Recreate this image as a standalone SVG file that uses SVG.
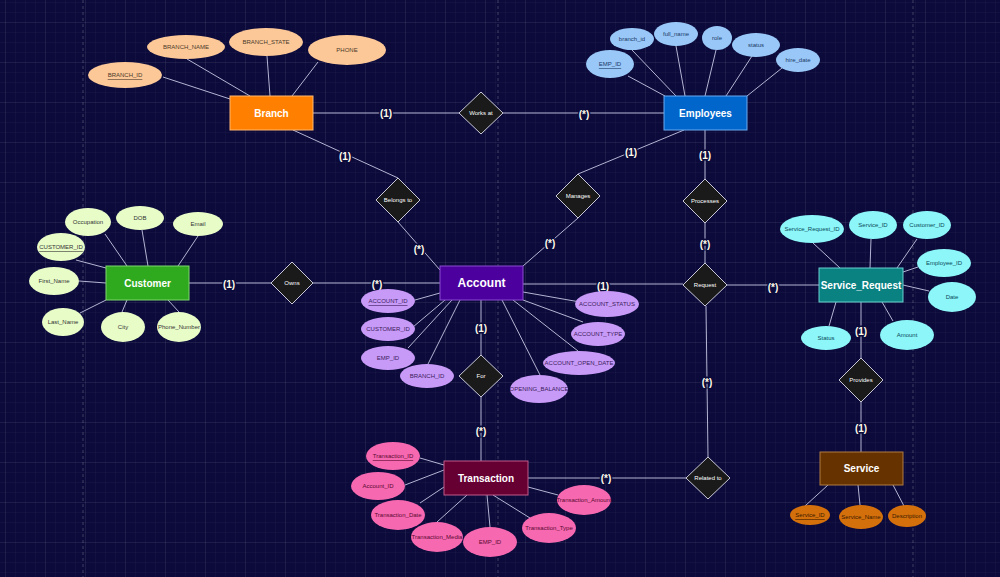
<svg xmlns="http://www.w3.org/2000/svg" width="1000" height="577" viewBox="0 0 1000 577">
<defs>
<pattern id="minor" x="5" y="2" width="10" height="10" patternUnits="userSpaceOnUse">
<path d="M10 0H0V10" fill="none" stroke="#ffffff" stroke-opacity="0.055" stroke-width="1"/>
</pattern>
<pattern id="major" x="5" y="22" width="40" height="40" patternUnits="userSpaceOnUse">
<path d="M40 0H0V40" fill="none" stroke="#ffffff" stroke-opacity="0.1" stroke-width="1"/>
</pattern>
<style>
text{font-family:"Liberation Sans",Arial,sans-serif;text-anchor:middle;dominant-baseline:central}
.ent{font-size:10px;font-weight:bold;fill:#ffffff}
.attr{font-size:6px}
.u{text-decoration:underline}
.rel{fill:#1a1a1a;stroke:#c8c8d8;stroke-width:1}
.rt{font-size:6px;fill:#ffffff}
.card{font-size:10px;font-weight:bold;fill:#fffbea;stroke:#0b0b3b;stroke-width:3px;paint-order:stroke;stroke-linejoin:round}
.ln{stroke:#b4b4d4;stroke-width:1;fill:none}
.pb ellipse{fill:#fdc898}.pb text{fill:#4a3a2a}
.pe ellipse{fill:#99c8f8}.pe text{fill:#1a3a66}
.pc ellipse{fill:#e8fcc8}.pc text{fill:#333333}
.pa ellipse{fill:#c89af8}.pa text{fill:#3a1a5a}
.pt ellipse{fill:#f668b0}.pt text{fill:#5a0a30}
.ps ellipse{fill:#8cf6f8}.ps text{fill:#0a4a5a}
.pv ellipse{fill:#d4700c}.pv text{fill:#3a1a00}
</style>
</defs>
<rect width="1000" height="577" fill="#0b0a3a"/>
<rect width="1000" height="577" fill="url(#minor)"/>
<rect width="1000" height="577" fill="url(#major)"/>
<g stroke="#ffffff" stroke-opacity="0.22" stroke-dasharray="3 3">
<line x1="83" y1="0" x2="83" y2="577"/>
<line x1="498" y1="0" x2="498" y2="577"/>
<line x1="913" y1="0" x2="913" y2="577"/>
</g>

<g id="connectors" class="ln">
<line x1="163" y1="77" x2="230" y2="99"/>
<line x1="187" y1="59" x2="250" y2="96"/>
<line x1="267" y1="56" x2="270" y2="96"/>
<line x1="318" y1="62" x2="292" y2="96"/>
<line x1="628" y1="76" x2="665" y2="96"/>
<line x1="632" y1="50" x2="676" y2="96"/>
<line x1="676" y1="46" x2="685" y2="96"/>
<line x1="716" y1="50" x2="705" y2="96"/>
<line x1="752" y1="56" x2="726" y2="96"/>
<line x1="782" y1="68" x2="747" y2="96"/>
<line x1="105" y1="234" x2="127" y2="266"/>
<line x1="142" y1="230" x2="148" y2="266"/>
<line x1="198" y1="236" x2="178" y2="266"/>
<line x1="76" y1="260" x2="106" y2="268"/>
<line x1="79" y1="281" x2="106" y2="283"/>
<line x1="80" y1="313" x2="106" y2="300"/>
<line x1="122" y1="312" x2="127" y2="300"/>
<line x1="179" y1="312" x2="168" y2="300"/>
<line x1="415" y1="300" x2="440" y2="293"/>
<line x1="413" y1="327" x2="445" y2="300"/>
<line x1="408" y1="348" x2="452" y2="300"/>
<line x1="428" y1="364" x2="460" y2="300"/>
<line x1="540" y1="375" x2="502" y2="300"/>
<line x1="578" y1="351" x2="513" y2="300"/>
<line x1="583" y1="322" x2="523" y2="300"/>
<line x1="580" y1="302" x2="523" y2="292"/>
<line x1="420" y1="458" x2="444" y2="465"/>
<line x1="405" y1="485" x2="444" y2="470"/>
<line x1="420" y1="503" x2="444" y2="487"/>
<line x1="437" y1="522" x2="467" y2="495"/>
<line x1="490" y1="527" x2="487" y2="495"/>
<line x1="530" y1="518" x2="493" y2="495"/>
<line x1="558" y1="495" x2="528" y2="487"/>
<line x1="813" y1="243" x2="840" y2="268"/>
<line x1="871" y1="239" x2="870" y2="268"/>
<line x1="917" y1="239" x2="897" y2="268"/>
<line x1="918" y1="267" x2="903" y2="272"/>
<line x1="929" y1="291" x2="903" y2="285"/>
<line x1="893" y1="321" x2="882" y2="302"/>
<line x1="829" y1="326" x2="836" y2="302"/>
<line x1="805" y1="506" x2="828" y2="485"/>
<line x1="860" y1="505" x2="858" y2="485"/>
<line x1="904" y1="506" x2="893" y2="485"/>
<line x1="313" y1="113" x2="459" y2="113"/>
<line x1="503" y1="113" x2="664" y2="113"/>
<line x1="293" y1="130" x2="398" y2="178"/>
<line x1="398" y1="222" x2="440" y2="270"/>
<line x1="684" y1="130" x2="578" y2="174"/>
<line x1="578" y1="218" x2="523" y2="266"/>
<line x1="705" y1="130" x2="705" y2="179"/>
<line x1="705" y1="223" x2="705" y2="263"/>
<line x1="189" y1="283" x2="271" y2="283"/>
<line x1="313" y1="283" x2="440" y2="283"/>
<line x1="523" y1="284" x2="683" y2="284"/>
<line x1="727" y1="285" x2="819" y2="285"/>
<line x1="481" y1="300" x2="481" y2="355"/>
<line x1="481" y1="397" x2="481" y2="461"/>
<line x1="528" y1="478" x2="686" y2="478"/>
<line x1="708" y1="457" x2="706" y2="306"/>
<line x1="861" y1="302" x2="861" y2="358"/>
<line x1="861" y1="402" x2="861" y2="452"/>
</g>

<g id="cardinalities">
<text class="card" x="386" y="113">(1)</text>
<text class="card" x="584" y="114">(*)</text>
<text class="card" x="345" y="156">(1)</text>
<text class="card" x="419" y="249">(*)</text>
<text class="card" x="631" y="152">(1)</text>
<text class="card" x="550" y="243">(*)</text>
<text class="card" x="705" y="155">(1)</text>
<text class="card" x="705" y="244">(*)</text>
<text class="card" x="229" y="284">(1)</text>
<text class="card" x="377" y="284">(*)</text>
<text class="card" x="603" y="286">(1)</text>
<text class="card" x="773" y="287">(*)</text>
<text class="card" x="481" y="328">(1)</text>
<text class="card" x="481" y="431">(*)</text>
<text class="card" x="606" y="478">(*)</text>
<text class="card" x="707" y="382">(*)</text>
<text class="card" x="861" y="331">(1)</text>
<text class="card" x="861" y="428">(1)</text>
</g>

<g id="branch">
<rect x="230" y="96" width="83" height="34" fill="#ff8000" stroke="#ffb870"/>
<text class="ent" x="271.5" y="113">Branch</text>
<g class="pb">
<ellipse cx="125" cy="75" rx="37" ry="13"/><text class="attr u" x="125" y="75">BRANCH_ID</text>
<ellipse cx="186" cy="47" rx="39" ry="12"/><text class="attr" x="186" y="47">BRANCH_NAME</text>
<ellipse cx="266" cy="42" rx="37" ry="14"/><text class="attr" x="266" y="42">BRANCH_STATE</text>
<ellipse cx="347" cy="50" rx="39" ry="15"/><text class="attr" x="347" y="50">PHONE</text>
</g>
</g>

<g id="employees">
<rect x="664" y="96" width="83" height="34" fill="#0066cc" stroke="#6aaaf0"/>
<text class="ent" x="705.5" y="113">Employees</text>
<g class="pe">
<ellipse cx="610" cy="64" rx="24" ry="14"/><text class="attr u" x="610" y="64">EMP_ID</text>
<ellipse cx="632" cy="39" rx="22" ry="11"/><text class="attr" x="632" y="39">branch_id</text>
<ellipse cx="676" cy="34" rx="22" ry="12"/><text class="attr" x="676" y="34">full_name</text>
<ellipse cx="717" cy="38" rx="15" ry="12"/><text class="attr" x="717" y="38">role</text>
<ellipse cx="756" cy="45" rx="24" ry="12"/><text class="attr" x="756" y="45">status</text>
<ellipse cx="798" cy="60" rx="22" ry="12"/><text class="attr" x="798" y="60">hire_date</text>
</g>
</g>

<g id="customer">
<rect x="106" y="266" width="83" height="34" fill="#2faa1e" stroke="#7ed66e"/>
<text class="ent" x="147.5" y="283">Customer</text>
<g class="pc">
<ellipse cx="88" cy="222" rx="23" ry="14"/><text class="attr" x="88" y="222">Occupation</text>
<ellipse cx="140" cy="218" rx="24" ry="12"/><text class="attr" x="140" y="218">DOB</text>
<ellipse cx="198" cy="224" rx="25" ry="12"/><text class="attr" x="198" y="224">Email</text>
<ellipse cx="61" cy="247" rx="24" ry="14"/><text class="attr u" x="61" y="247">CUSTOMER_ID</text>
<ellipse cx="54" cy="281" rx="25" ry="14"/><text class="attr" x="54" y="281">First_Name</text>
<ellipse cx="63" cy="322" rx="21" ry="14"/><text class="attr" x="63" y="322">Last_Name</text>
<ellipse cx="123" cy="327" rx="22" ry="15"/><text class="attr" x="123" y="327">City</text>
<ellipse cx="179" cy="327" rx="22" ry="15"/><text class="attr" x="179" y="327">Phone_Number</text>
</g>
</g>

<g id="account">
<rect x="440" y="266" width="83" height="34" fill="#4c009e" stroke="#8a4ad0"/>
<text class="ent" x="481.5" y="283" style="font-size:12px">Account</text>
<g class="pa">
<ellipse cx="388" cy="301" rx="27" ry="12"/><text class="attr u" x="388" y="301">ACCOUNT_ID</text>
<ellipse cx="388" cy="329" rx="27" ry="12"/><text class="attr" x="388" y="329">CUSTOMER_ID</text>
<ellipse cx="388" cy="358" rx="27" ry="12"/><text class="attr" x="388" y="358">EMP_ID</text>
<ellipse cx="427" cy="376" rx="27" ry="12"/><text class="attr" x="427" y="376">BRANCH_ID</text>
<ellipse cx="539" cy="389" rx="29" ry="14"/><text class="attr" x="539" y="389">OPENING_BALANCE</text>
<ellipse cx="579" cy="363" rx="36" ry="12"/><text class="attr" x="579" y="363">ACCOUNT_OPEN_DATE</text>
<ellipse cx="598" cy="334" rx="27" ry="12"/><text class="attr" x="598" y="334">ACCOUNT_TYPE</text>
<ellipse cx="607" cy="304" rx="32" ry="13"/><text class="attr" x="607" y="304">ACCOUNT_STATUS</text>
</g>
</g>

<g id="transaction">
<rect x="444" y="461" width="84" height="34" fill="#660033" stroke="#c05a8a"/>
<text class="ent" x="486" y="478">Transaction</text>
<g class="pt">
<ellipse cx="393" cy="456" rx="27" ry="14"/><text class="attr u" x="393" y="456">Transaction_ID</text>
<ellipse cx="378" cy="486" rx="27" ry="14"/><text class="attr" x="378" y="486">Account_ID</text>
<ellipse cx="398" cy="515" rx="27" ry="15"/><text class="attr" x="398" y="515">Transaction_Date</text>
<ellipse cx="437" cy="537" rx="26" ry="15"/><text class="attr" x="437" y="537">Transaction_Media</text>
<ellipse cx="490" cy="542" rx="27" ry="15"/><text class="attr" x="490" y="542">EMP_ID</text>
<ellipse cx="549" cy="528" rx="27" ry="15"/><text class="attr" x="549" y="528">Transaction_Type</text>
<ellipse cx="584" cy="500" rx="27" ry="15"/><text class="attr" x="584" y="500">Transaction_Amount</text>
</g>
</g>

<g id="service_request">
<rect x="819" y="268" width="84" height="34" fill="#0a8282" stroke="#6ad0d0"/>
<text class="ent" x="861" y="285">Service_Request</text>
<g class="ps">
<ellipse cx="812" cy="229" rx="32" ry="14"/><text class="attr" x="812" y="229">Service_Request_ID</text>
<ellipse cx="873" cy="225" rx="24" ry="14"/><text class="attr" x="873" y="225">Service_ID</text>
<ellipse cx="927" cy="225" rx="24" ry="14"/><text class="attr" x="927" y="225">Customer_ID</text>
<ellipse cx="944" cy="263" rx="27" ry="14"/><text class="attr" x="944" y="263">Employee_ID</text>
<ellipse cx="952" cy="297" rx="24" ry="15"/><text class="attr" x="952" y="297">Date</text>
<ellipse cx="907" cy="335" rx="27" ry="15"/><text class="attr" x="907" y="335">Amount</text>
<ellipse cx="826" cy="338" rx="25" ry="12"/><text class="attr" x="826" y="338">Status</text>
</g>
</g>

<g id="service">
<rect x="820" y="452" width="83" height="33" fill="#663300" stroke="#b07a40"/>
<text class="ent" x="861.5" y="468.5">Service</text>
<g class="pv">
<ellipse cx="810" cy="515" rx="20" ry="10"/><text class="attr u" x="810" y="515">Service_ID</text>
<ellipse cx="861" cy="517" rx="22" ry="12"/><text class="attr" x="861" y="517">Service_Name</text>
<ellipse cx="907" cy="516" rx="19" ry="11"/><text class="attr" x="907" y="516">Description</text>
</g>
</g>

<g id="works_at"><polygon class="rel" points="481,92 503,113 481,134 459,113"/><text class="rt" x="481" y="113">Works at</text></g>
<g id="belongs_to"><polygon class="rel" points="398,178 420,200 398,222 376,200"/><text class="rt" x="398" y="200">Belongs to</text></g>
<g id="manages"><polygon class="rel" points="578,174 600,196 578,218 556,196"/><text class="rt" x="578" y="196">Manages</text></g>
<g id="processes"><polygon class="rel" points="705,179 727,201 705,223 683,201"/><text class="rt" x="705" y="201">Processes</text></g>
<g id="owns"><polygon class="rel" points="292,262 313,283 292,304 271,283"/><text class="rt" x="292" y="283">Owns</text></g>
<g id="request"><polygon class="rel" points="705,263 727,285 705,306 683,285"/><text class="rt" x="705" y="285">Request</text></g>
<g id="for"><polygon class="rel" points="481,355 503,376 481,397 459,376"/><text class="rt" x="481" y="376">For</text></g>
<g id="related_to"><polygon class="rel" points="708,457 730,478 708,499 686,478"/><text class="rt" x="708" y="478">Related to</text></g>
<g id="provides"><polygon class="rel" points="861,358 883,380 861,402 839,380"/><text class="rt" x="861" y="380">Provides</text></g>
</svg>
